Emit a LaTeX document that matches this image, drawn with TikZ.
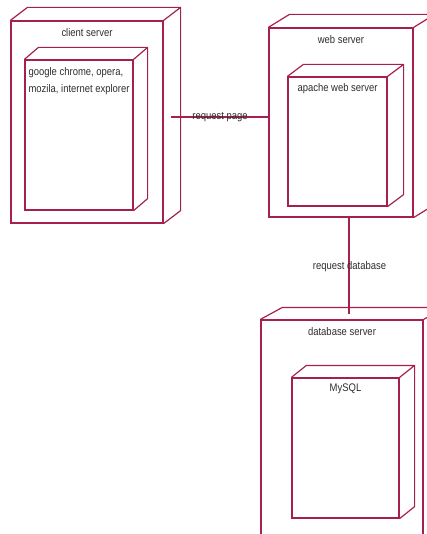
\documentclass[tikz,border=0pt]{standalone}
\usepackage{fontspec}
\newfontfamily\diagfont{Liberation Sans}[FakeStretch=0.86]
\usepackage{tikz}
\usetikzlibrary{positioning}
\usepackage{color}

\definecolor{nodeline}{RGB}{165,32,80}
\definecolor{textgray}{RGB}{45,45,45}

\tikzset{
    server/.style={draw=nodeline, line width=1.2pt, inner sep=0pt},
    lbl/.style={font=\diagfont\fontsize{11}{16.5}\selectfont, text=textgray, inner sep=0pt},
    link/.style={draw=nodeline, line width=1.2pt}
}

% back faces of a node box: name, dx, dy
\newcommand{\nodedepth}[3]{%
    \draw[server] (#1.north west) -- ++(#2,#3)
        -- ([shift={(#2,#3)}]#1.north east)
        -- ([shift={(#2,#3)}]#1.south east) -- (#1.south east)
        (#1.north east) -- ++(#2,#3);
}

\begin{document}
\begin{tikzpicture}[x=1pt, y=-1pt]

    \clip (0,0) rectangle (427,534);

    %nodes
    \node[server, minimum width=152pt, minimum height=202pt] (client) at (87,122) {};
    \node[server, minimum width=108pt, minimum height=150pt] (browser) at (79,135) {};
    \node[server, minimum width=144pt, minimum height=189pt] (web) at (341,122.5) {};
    \node[server, minimum width=99pt, minimum height=129pt] (apache) at (337.5,141.5) {};
    \node[server, minimum width=162pt, minimum height=225pt] (db) at (342,432.5) {};
    \node[server, minimum width=107pt, minimum height=140pt] (mysql) at (345.5,448) {};

    % depth
    \nodedepth{client}{17}{-13}
    \nodedepth{browser}{14}{-12}
    \nodedepth{web}{21}{-13}
    \nodedepth{apache}{16}{-12}
    \nodedepth{db}{22}{-12}
    \nodedepth{mysql}{15}{-12}

    % labels
    \node[lbl, below=8pt of client.north] (clientlbl) {client server};
    \node[lbl, below=8pt of web.north] (weblbl) {web server};
    \node[lbl, below=8pt of db.north] (dblbl) {database server};
    \node[lbl, below=7pt of apache.north] (apachelbl) {apache web server};
    \node[lbl, below=6pt of mysql.north] (mysqllbl) {MySQL};
    \node[lbl, align=left, anchor=north west] (browserlbl) at ([shift={(4,8)}]browser.north west)
        {google chrome, opera,\\mozila, internet explorer};

    % edges
    \coordinate (pagestart) at (171,117);
    \coordinate (dbend) at (349,314);
    \draw[link] (pagestart) -- (pagestart -| web.west);
    \draw[link] (dbend |- web.south) -- (dbend);
    \node[lbl] (pagelbl) at (220,117) {request page};
    \node[lbl] (dblink) at (349.5,267) {request database};

\end{tikzpicture}
\end{document}
